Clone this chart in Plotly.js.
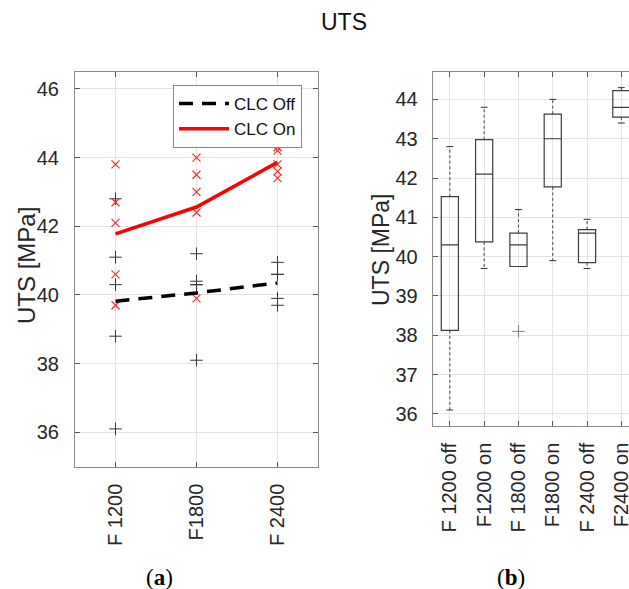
<!DOCTYPE html>
<html>
<head>
<meta charset="utf-8">
<script src="https://cdn.plot.ly/plotly-3.0.1.min.js"></script>
<style>html,body{margin:0;padding:0;background:#fff}#chart{width:629px;height:589px}</style>
</head>
<body>
<div id="chart"></div>
<script>
// ---- data ----
const feedCategories = ['F 1200', 'F1800', 'F 2400'];
const clcOffValues = [
  [42.8, 41.1, 40.3, 38.8, 36.1],
  [41.2, 40.4, 40.3, 40.3, 38.1],
  [40.95, 40.6, 40.6, 39.9, 39.7]
];
const clcOnValues = [
  [43.8, 42.7, 42.1, 40.6, 39.7],
  [44.0, 43.5, 43.0, 42.4, 39.9],
  [44.3, 44.2, 43.8, 43.6, 43.4]
];
const boxCategories = ['F 1200 off', 'F1200 on', 'F 1800 off', 'F1800 on', 'F 2400 off', 'F2400 on'];
const seriesNames = ['CLC Off', 'CLC On'];
const leftTicks = [36, 38, 40, 42, 44, 46];
const rightTicks = [36, 37, 38, 39, 40, 41, 42, 43, 44];
const yTitle = 'UTS [MPa]';

// ---- helpers ----
const mean = a => a.reduce((s, v) => s + v, 0) / a.length;
function prctile(sorted, p) {
  const n = sorted.length;
  const pos = p * n - 0.5;
  if (pos <= 0) return sorted[0];
  if (pos >= n - 1) return sorted[n - 1];
  const i = Math.floor(pos), f = pos - i;
  return sorted[i] + f * (sorted[i + 1] - sorted[i]);
}
function boxStats(vals) {
  const s = vals.slice().sort((a, b) => a - b);
  const q1 = prctile(s, 0.25), med = prctile(s, 0.5), q3 = prctile(s, 0.75);
  const iqr = q3 - q1;
  const lo = q1 - 1.5 * iqr, hi = q3 + 1.5 * iqr;
  const inside = s.filter(v => v >= lo && v <= hi);
  const outliers = s.filter(v => v < lo || v > hi);
  return {q1, med, q3, lw: Math.min(q1, Math.min(...inside)), uw: Math.max(q3, Math.max(...inside)), outliers};
}

const posA = feedCategories.map((_, i) => i + 1);
const offMeans = clcOffValues.map(mean);
const onMeans = clcOnValues.map(mean);

const traces = [];
// scatter markers (a)
const offX = [], offY = [], onX = [], onY = [];
clcOffValues.forEach((arr, i) => arr.forEach(v => { offX.push(posA[i]); offY.push(v); }));
clcOnValues.forEach((arr, i) => arr.forEach(v => { onX.push(posA[i]); onY.push(v); }));
traces.push({type: 'scatter', mode: 'markers', x: offX, y: offY, showlegend: false, hoverinfo: 'y',
  marker: {symbol: 'cross-thin-open', size: 9, line: {color: '#333', width: 1}, color: '#333'}});
traces.push({type: 'scatter', mode: 'markers', x: onX, y: onY, showlegend: false, hoverinfo: 'y',
  marker: {symbol: 'x-thin-open', size: 8, line: {color: '#ff2a2a', width: 1.2}, color: '#ff2a2a'}});
traces.push({type: 'scatter', mode: 'lines', x: posA, y: offMeans, name: seriesNames[0],
  line: {color: '#000', width: 3.5, dash: '14px,9px'}});
traces.push({type: 'scatter', mode: 'lines', x: posA, y: onMeans, name: seriesNames[1],
  line: {color: '#ff0000', width: 3.5}});

// box plot (b)
const boxGroups = [];
feedCategories.forEach((_, i) => { boxGroups.push(clcOffValues[i]); boxGroups.push(clcOnValues[i]); });
const posB = boxCategories.map((_, i) => i + 1);
const stats = boxGroups.map(boxStats);
traces.push({type: 'box', xaxis: 'x2', yaxis: 'y2', x: posB, showlegend: false,
  q1: stats.map(s => s.q1), median: stats.map(s => s.med), q3: stats.map(s => s.q3),
  lowerfence: stats.map(s => s.q1), upperfence: stats.map(s => s.q3),
  width: 0.5, whiskerwidth: 0, fillcolor: 'rgba(0,0,0,0)', line: {color: '#3c3c3c', width: 1.2}, boxpoints: false});
const wx = [], wy = [], cx = [], cy = [], ox = [], oy = [];
stats.forEach((s, i) => {
  const p = posB[i];
  if (s.uw > s.q3) { wx.push(p, p, null); wy.push(s.q3, s.uw, null); cx.push(p - 0.1, p + 0.1, null); cy.push(s.uw, s.uw, null); }
  if (s.lw < s.q1) { wx.push(p, p, null); wy.push(s.q1, s.lw, null); cx.push(p - 0.1, p + 0.1, null); cy.push(s.lw, s.lw, null); }
  s.outliers.forEach(v => { ox.push(p); oy.push(v); });
});
traces.push({type: 'scatter', mode: 'lines', xaxis: 'x2', yaxis: 'y2', x: wx, y: wy, showlegend: false, hoverinfo: 'skip',
  line: {color: '#444', width: 1, dash: '3px,2.5px'}});
traces.push({type: 'scatter', mode: 'lines', xaxis: 'x2', yaxis: 'y2', x: cx, y: cy, showlegend: false, hoverinfo: 'skip',
  line: {color: '#333', width: 1}});
traces.push({type: 'scatter', mode: 'markers', xaxis: 'x2', yaxis: 'y2', x: ox, y: oy, showlegend: false,
  marker: {symbol: 'cross-thin-open', size: 9, line: {color: '#333', width: 1}}});

const W = 629, H = 589;
const font = 'Liberation Sans, Arial, Helvetica, sans-serif';
const serif = 'Liberation Serif, Times New Roman, serif';
const axisCommon = {showline: true, linecolor: '#8a8a8a', linewidth: 1, gridcolor: '#e3e3e3', gridwidth: 1, showgrid: true,
  ticks: 'inside', ticklen: 5, tickcolor: '#555', zeroline: false, tickfont: {family: font, size: 20, color: '#262626'}};

const layout = {
  width: W, height: H, margin: {l: 0, r: 0, t: 0, b: 0}, paper_bgcolor: '#fff', plot_bgcolor: '#fff',
  font: {family: font, color: '#262626'},
  title: {text: 'UTS', x: 344 / W, xanchor: 'center', xref: 'paper', y: 1 - 22 / H, yanchor: 'middle',
    font: {family: font, size: 23, color: '#111'}},
  xaxis: Object.assign({}, axisCommon, {domain: [75 / W, 318 / W], range: [0.5, 3.5], tickvals: posA, ticktext: feedCategories,
    tickangle: -90, mirror: 'ticks', ticklabelstandoff: 8}),
  yaxis: Object.assign({}, axisCommon, {domain: [(H - 466.7) / H, (H - 71.7) / H], range: [35.0, 46.5], tickvals: leftTicks,
    mirror: 'ticks', ticklabelstandoff: 11}),
  xaxis2: Object.assign({}, axisCommon, {domain: [432.7 / W, 1], range: [0.5, 0.5 + (W - 432.7) / 34.3], tickvals: posB,
    ticktext: boxCategories, tickangle: -90, mirror: 'ticks', anchor: 'y2', ticklabelstandoff: 8, ticklabeloverflow: 'allow'}),
  yaxis2: Object.assign({}, axisCommon, {domain: [(H - 425.7) / H, (H - 72.3) / H], range: [35.7, 44.69], tickvals: rightTicks,
    anchor: 'x2', mirror: false, ticklabelstandoff: 10, tickfont: {family: font, size: 20, color: '#262626'}}),
  legend: {x: 173 / W, y: (H - 85) / H, xanchor: 'left', yanchor: 'top', bgcolor: '#fff', bordercolor: '#888', borderwidth: 1,
    font: {family: font, size: 17, color: '#111'}, itemwidth: 50, tracegroupgap: 0},
  annotations: [
    {text: yTitle, textangle: -90, x: 26 / W, y: (H - 266) / H, xref: 'paper', yref: 'paper', xanchor: 'center', yanchor: 'middle',
      showarrow: false, font: {family: font, size: 24, color: '#262626'}},
    {text: yTitle, textangle: -90, x: 381 / W, y: (H - 250) / H, xref: 'paper', yref: 'paper', xanchor: 'center', yanchor: 'middle',
      showarrow: false, font: {family: font, size: 23, color: '#262626'}},
    {text: '(<b>a</b>)', x: 144 / W, y: (H - 577) / H, xref: 'paper', yref: 'paper', yanchor: 'middle', showarrow: false,
      font: {family: serif, size: 23, color: '#000'}},
    {text: '(<b>b</b>)', x: 527 / W, y: (H - 577) / H, xref: 'paper', yref: 'paper', yanchor: 'middle', showarrow: false,
      font: {family: serif, size: 23, color: '#000'}}
  ]
};

Plotly.newPlot('chart', traces, layout, {staticPlot: true, displayModeBar: false});
</script>
</body>
</html>
